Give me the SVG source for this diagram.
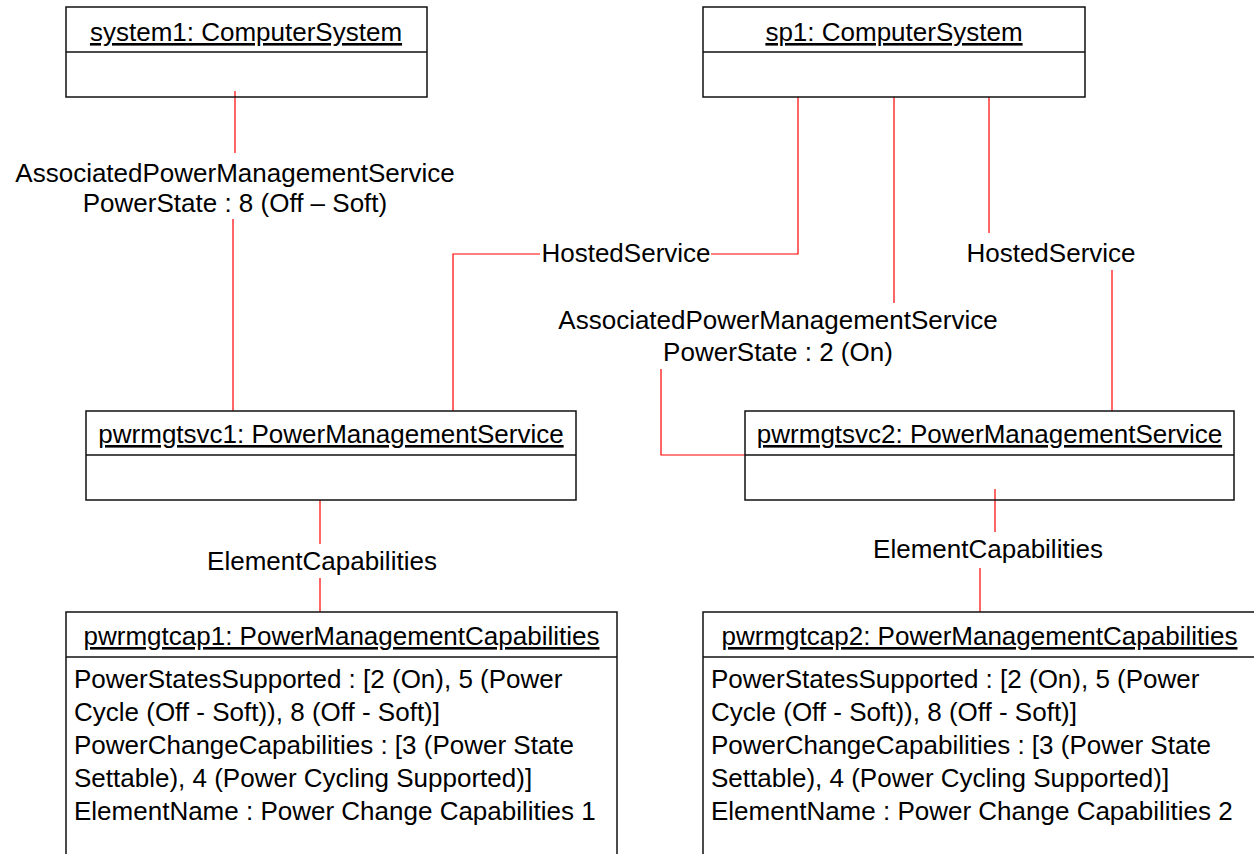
<svg xmlns="http://www.w3.org/2000/svg" width="1254" height="854" viewBox="0 0 1254 854">
  <style>
    text { font-family: "Liberation Sans", Arial, sans-serif; font-size: 26px; fill: #000; }
    .title { text-anchor: middle; text-decoration: underline; }
    .label { text-anchor: middle; }
    .box { fill: #fff; stroke: #111; stroke-width: 1.5; }
    .open { fill: none; }
    .div { stroke: #111; stroke-width: 1.5; }
    .conn { fill: none; stroke: #f00; stroke-width: 1.2; }
  </style>
  <rect width="1254" height="854" fill="#fff"/>

  <!-- associations -->
  <g id="connectors">
    <!-- system1 to pwrmgtsvc1 -->
    <line class="conn" x1="235" y1="91" x2="235" y2="153"/>
    <line class="conn" x1="233" y1="219" x2="233" y2="411"/>
    <!-- sp1 to pwrmgtsvc1 (HostedService) -->
    <polyline class="conn" points="798,97 798,254 711,254"/>
    <polyline class="conn" points="540,254 453,254 453,411"/>
    <!-- sp1 to pwrmgtsvc2 (AssociatedPowerManagementService) -->
    <line class="conn" x1="894" y1="97" x2="894" y2="303"/>
    <polyline class="conn" points="661,369 661,455 745,455"/>
    <!-- sp1 to pwrmgtsvc2 (HostedService) -->
    <line class="conn" x1="989" y1="97" x2="989" y2="233"/>
    <line class="conn" x1="1112" y1="270" x2="1112" y2="411"/>
    <!-- pwrmgtsvc1 to pwrmgtcap1 -->
    <line class="conn" x1="320" y1="500" x2="320" y2="544"/>
    <line class="conn" x1="320" y1="578" x2="320" y2="612"/>
    <!-- pwrmgtsvc2 to pwrmgtcap2 -->
    <line class="conn" x1="995" y1="489" x2="995" y2="532"/>
    <line class="conn" x1="980" y1="568" x2="980" y2="612"/>

    <text class="label" x="235" y="182">AssociatedPowerManagementService</text>
    <text class="label" x="235" y="212">PowerState : 8 (Off – Soft)</text>
    <text class="label" x="626" y="262">HostedService</text>
    <text class="label" x="1051" y="262">HostedService</text>
    <text class="label" x="778" y="329">AssociatedPowerManagementService</text>
    <text class="label" x="778" y="361">PowerState : 2 (On)</text>
    <text class="label" x="322" y="570">ElementCapabilities</text>
    <text class="label" x="988" y="558">ElementCapabilities</text>
  </g>

  <g id="system1">
    <rect class="box open" x="66" y="7" width="361" height="90"/>
    <line class="div" x1="66" y1="52" x2="427" y2="52"/>
    <text class="title" x="246" y="41">system1: ComputerSystem</text>
  </g>

  <g id="sp1">
    <rect class="box open" x="703" y="7" width="382" height="90"/>
    <line class="div" x1="703" y1="52" x2="1085" y2="52"/>
    <text class="title" x="894" y="41">sp1: ComputerSystem</text>
  </g>

  <g id="pwrmgtsvc1">
    <rect class="box" x="86" y="411" width="490" height="89"/>
    <line class="div" x1="86" y1="455" x2="576" y2="455"/>
    <text class="title" x="331" y="443">pwrmgtsvc1: PowerManagementService</text>
  </g>

  <g id="pwrmgtsvc2">
    <rect class="box open" x="745" y="411" width="489" height="89"/>
    <line class="div" x1="745" y1="455" x2="1234" y2="455"/>
    <text class="title" x="989.5" y="443">pwrmgtsvc2: PowerManagementService</text>
  </g>

  <g id="pwrmgtcap1">
    <rect class="box" x="66" y="612" width="551" height="260"/>
    <line class="div" x1="66" y1="657" x2="617" y2="657"/>
    <text class="title" x="341.5" y="645">pwrmgtcap1: PowerManagementCapabilities</text>
    <text x="74" y="688">PowerStatesSupported : [2 (On), 5 (Power</text>
    <text x="74" y="721">Cycle (Off - Soft)), 8 (Off - Soft)]</text>
    <text x="74" y="754">PowerChangeCapabilities : [3 (Power State</text>
    <text x="74" y="787">Settable), 4 (Power Cycling Supported)]</text>
    <text x="74" y="820">ElementName : Power Change Capabilities 1</text>
  </g>

  <g id="pwrmgtcap2">
    <rect class="box" x="703" y="612" width="553" height="260"/>
    <line class="div" x1="703" y1="657" x2="1256" y2="657"/>
    <text class="title" x="979.5" y="645">pwrmgtcap2: PowerManagementCapabilities</text>
    <text x="711" y="688">PowerStatesSupported : [2 (On), 5 (Power</text>
    <text x="711" y="721">Cycle (Off - Soft)), 8 (Off - Soft)]</text>
    <text x="711" y="754">PowerChangeCapabilities : [3 (Power State</text>
    <text x="711" y="787">Settable), 4 (Power Cycling Supported)]</text>
    <text x="711" y="820">ElementName : Power Change Capabilities 2</text>
  </g>
</svg>
